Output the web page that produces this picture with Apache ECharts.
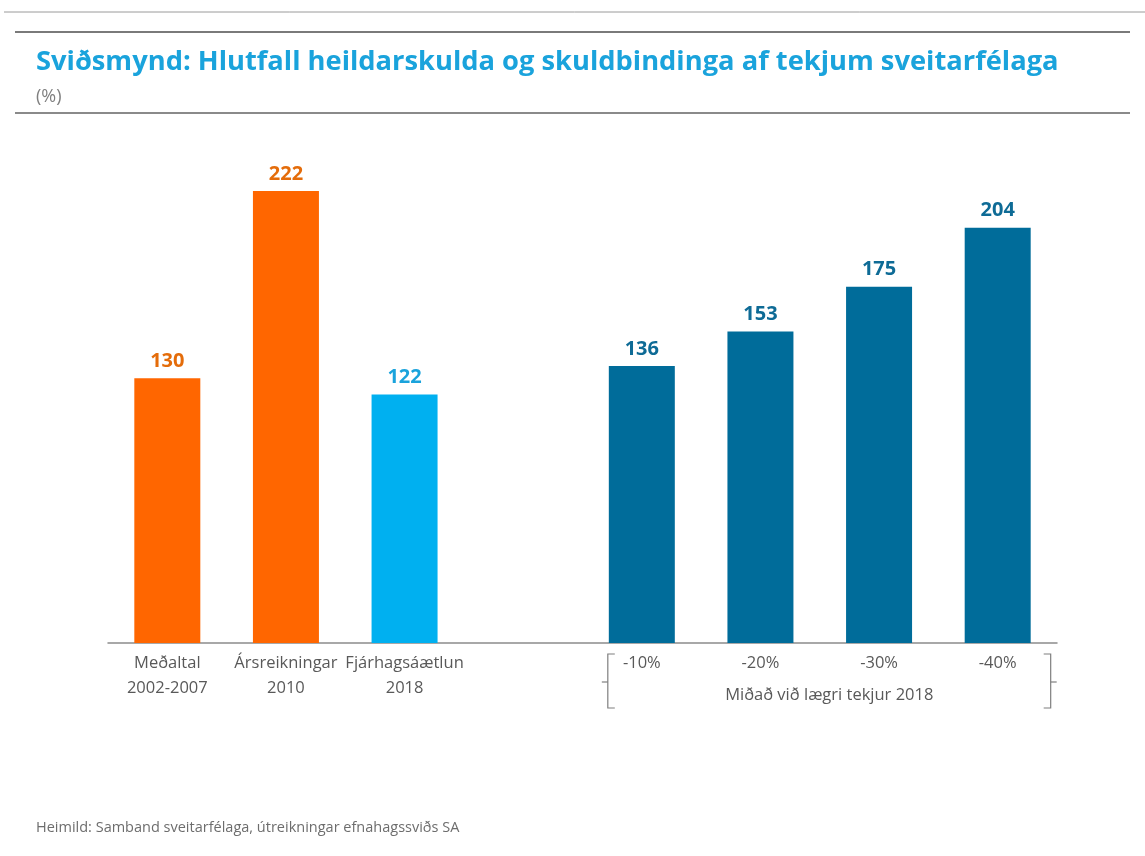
<!DOCTYPE html>
<html>
<head>
<meta charset="utf-8">
<script src="https://cdn.jsdelivr.net/npm/echarts@6/dist/echarts.min.js"></script>
<style>
  html, body { margin: 0; padding: 0; background: #fff; }
  #chart { width: 1145px; height: 856px; }
</style>
</head>
<body>
<div id="chart"></div>
<script>
// Flokkar á x-ás (tómt sæti skilur hópana að)
const flokkar = ['Meðaltal\n2002-2007', 'Ársreikningar\n2010', 'Fjárhagsáætlun\n2018', '', '-10%', '-20%', '-30%', '-40%'];
// Hlutfall skulda af tekjum (%)
const hlutfall = [130, 222, 122, null, 136, 153, 175, 204];
// Litir súlna og talna
const sulnaLitir = ['#FF6600', '#FF6600', '#00B0F0', '#fff', '#006C9A', '#006C9A', '#006C9A', '#006C9A'];
const talnaLitir = ['#E46C0A', '#E46C0A', '#1AA3DC', '#fff', '#0E6B96', '#0E6B96', '#0E6B96', '#0E6B96'];

const titill = 'Sviðsmynd: Hlutfall heildarskulda og skuldbindinga af tekjum sveitarfélaga';
const eining = '(%)';
const hopur = 'Miðað við lægri tekjur 2018';
const heimild = 'Heimild: Samband sveitarfélaga, útreikningar efnahagssviðs SA';

const FONT = '"Open Sans", "DejaVu Sans", sans-serif';
const chart = echarts.init(document.getElementById('chart'));

const option = {
  animation: false,
  grid: { left: 108, right: 88, top: 134, bottom: 213 },
  xAxis: {
    type: 'category',
    data: flokkar,
    axisLine: { lineStyle: { color: '#8c8c8c', width: 1.5 } },
    axisTick: { show: false },
    axisLabel: {
      interval: 0,
      margin: 8,
      color: '#595959',
      fontFamily: FONT,
      fontSize: 16.5,
      lineHeight: 25
    }
  },
  yAxis: { type: 'value', min: 0, max: 250, show: false, splitLine: { show: false } },
  series: [{
    type: 'bar',
    barWidth: 66,
    data: hlutfall.map((v, i) => ({
      value: v,
      itemStyle: { color: sulnaLitir[i] },
      label: { color: talnaLitir[i] }
    })),
    label: {
      show: true,
      position: 'top',
      distance: 7,
      fontFamily: FONT,
      fontWeight: 'bold',
      fontSize: 20
    }
  }],
  graphic: [
    { id: 'l1', type: 'line', shape: { x1: 4, y1: 12, x2: 1145, y2: 12 }, style: { stroke: '#9a9a9a', lineWidth: 1 } },
    { id: 'l2', type: 'line', shape: { x1: 15, y1: 32, x2: 1130, y2: 32 }, style: { stroke: '#7a7a7a', lineWidth: 2 } },
    { id: 'l3', type: 'line', shape: { x1: 15, y1: 113, x2: 1130, y2: 113 }, style: { stroke: '#8a8a8a', lineWidth: 2 } },
    { id: 'tit', type: 'text', x: 36, y: 62, style: { text: titill, fill: '#1AA3DC', font: 'bold 27.3px ' + FONT, verticalAlign: 'middle' } },
    { id: 'ein', type: 'text', x: 36, y: 97, style: { text: eining, fill: '#7f7f7f', font: '18px ' + FONT, verticalAlign: 'middle' } },
    { id: 'heim', type: 'text', x: 36, y: 828, style: { text: heimild, fill: '#6d6d6d', font: '14.5px ' + FONT, verticalAlign: 'middle' } }
  ]
};
chart.setOption(option);

// Svigar og texti undir hægri hópnum, staðsett út frá ásnum
const xa = chart.convertToPixel({ xAxisIndex: 0 }, 4);
const xb = chart.convertToPixel({ xAxisIndex: 0 }, 7);
const vx = xa - 34, hx = xb + 53;
const y0 = 654, y1 = 708, ym = 682;
chart.setOption({
  graphic: [
    { id: 'sv1', type: 'polyline', shape: { points: [[vx + 7, y0], [vx, y0], [vx, y1], [vx + 7, y1]] }, style: { stroke: '#7f7f7f', lineWidth: 1.2, fill: null } },
    { id: 'sv1o', type: 'line', shape: { x1: vx - 6, y1: ym, x2: vx, y2: ym }, style: { stroke: '#7f7f7f', lineWidth: 1.2 } },
    { id: 'sv2', type: 'polyline', shape: { points: [[hx - 7, y0], [hx, y0], [hx, y1], [hx - 7, y1]] }, style: { stroke: '#7f7f7f', lineWidth: 1.2, fill: null } },
    { id: 'sv2o', type: 'line', shape: { x1: hx, y1: ym, x2: hx + 6, y2: ym }, style: { stroke: '#7f7f7f', lineWidth: 1.2 } },
    { id: 'hop', type: 'text', x: (vx + hx) / 2, y: 695, style: { text: hopur, fill: '#595959', font: '16.5px ' + FONT, align: 'center', verticalAlign: 'middle' } }
  ]
});
</script>
</body>
</html>
